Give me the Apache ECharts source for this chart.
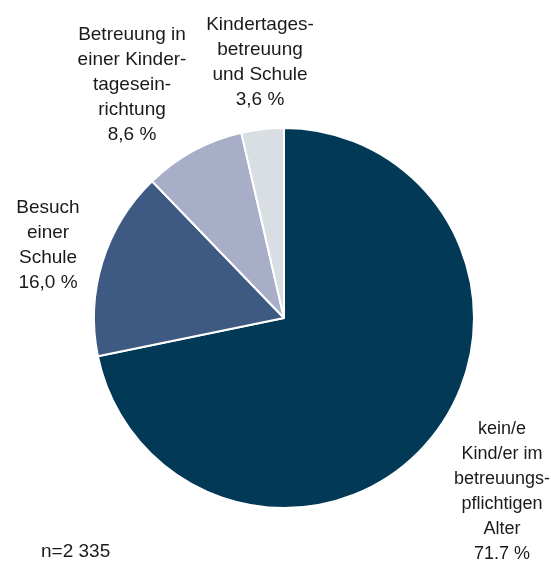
<!DOCTYPE html>
<html>
<head>
<meta charset="utf-8">
<script src="https://cdn.jsdelivr.net/npm/echarts@6/dist/echarts.min.js"></script>
<style>
  html, body { margin: 0; padding: 0; background: #fff; }
  #main { width: 551px; height: 562px; }
</style>
</head>
<body>
<div id="main"></div>
<script>
// slices, clockwise from 12 o'clock
const names = [
  'kein/e\nKind/er im\nbetreuungs-\npflichtigen\nAlter',
  'Besuch\neiner\nSchule',
  'Betreuung in\neiner Kinder-\ntagesein-\nrichtung',
  'Kindertages-\nbetreuung\nund Schule'
]
const values = [71.7, 16.0, 8.6, 3.6]
const valueLabels = ['71.7 %', '16,0 %', '8,6 %', '3,6 %']
const colors = ['#013956', '#3f5a82', '#a9aec8', '#d9dee3']
const note = 'n=2 335'

// label block centres (px)
const labelPos = [[502, 492], [48, 245], [132, 85], [260, 62]]

const chart = echarts.init(document.getElementById('main'))
const option = {
  animation: false,
  title: {
    text: note,
    left: 36,
    top: 537,
    textStyle: { fontSize: 19, fontWeight: 'normal', color: '#1a1a1a', fontFamily: 'Liberation Sans' }
  },
  series: [{
    type: 'pie',
    center: [284, 318],
    radius: [0, 190],
    startAngle: 90,
    clockwise: true,
    itemStyle: { borderColor: '#fff', borderWidth: 2 },
    label: {
      show: true,
      position: 'outside',
      formatter: p => p.name + '\n' + valueLabels[p.dataIndex],
      fontSize: 19,
      lineHeight: 25,
      color: '#1a1a1a',
      fontFamily: 'Liberation Sans',
      align: 'center',
      overflow: 'none',
      width: 200
    },
    labelLine: { show: false },
    labelLayout: p => ({
      x: labelPos[p.dataIndex][0],
      y: labelPos[p.dataIndex][1],
      align: 'center',
      verticalAlign: 'middle'
    }),
    emphasis: { disabled: true },
    data: values.map((v, i) => ({
      name: names[i],
      value: v,
      itemStyle: { color: colors[i] },
      label: i === 0 ? { fontSize: 18 } : undefined
    }))
  }]
}
chart.setOption(option)
</script>
</body>
</html>
